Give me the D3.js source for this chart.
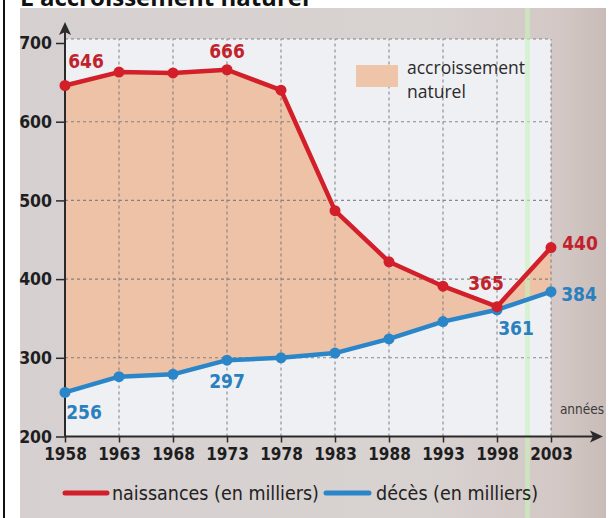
<!DOCTYPE html>
<html>
<head>
<meta charset="utf-8">
<script src="https://cdn.jsdelivr.net/npm/d3@7"></script>
<style>
  html, body { margin: 0; padding: 0; background: #fff; }
  svg { display: block; }
</style>
</head>
<body>
<svg id="chart" width="615" height="518"></svg>
<script>
// Naissances et décès en France (en milliers)
const years = [1958, 1963, 1968, 1973, 1978, 1983, 1988, 1993, 1998, 2003];
const naissances = [646, 663, 662, 666, 640, 487, 422, 391, 365, 440];
const deces = [256, 276, 279, 297, 300, 306, 324, 346, 361, 384];
const yTicks = [200, 300, 400, 500, 600, 700];

// Values that carry a printed label, with text offsets
const birthLabels = [
  { i: 0, dx: 21, dy: -17 },
  { i: 3, dx: 0, dy: -12 },
  { i: 8, dx: -11, dy: -17 },
  { i: 9, dx: 29, dy: 2 }
];
const deathLabels = [
  { i: 0, dx: 19, dy: 27 },
  { i: 3, dx: 0, dy: 28 },
  { i: 8, dx: 19, dy: 25 },
  { i: 9, dx: 28, dy: 9 }
];

const svg = d3.select("#chart");
const W = 615, H = 518;

const x = d3.scaleLinear().domain([1958, 2003]).range([65, 551]);
const y = d3.scaleLinear().domain([200, 700]).range([436.5, 43]);

// Page background (photographed paper)
const defs = svg.append("defs");
const bg = defs.append("linearGradient").attr("id", "paper").attr("x1", 0).attr("x2", 1).attr("y1", 0).attr("y2", 0);
bg.append("stop").attr("offset", "0%").attr("stop-color", "#d6d0d0");
bg.append("stop").attr("offset", "70%").attr("stop-color", "#d8d2d1");
bg.append("stop").attr("offset", "92%").attr("stop-color", "#d3c8c5");
bg.append("stop").attr("offset", "100%").attr("stop-color", "#c9bcb8");

svg.append("rect").attr("x", 0).attr("y", 0).attr("width", W).attr("height", H).attr("fill", "#fff");
svg.append("rect").attr("x", 20).attr("y", 8).attr("width", 586).attr("height", H - 8).attr("fill", "url(#paper)");

// Title (partly cut at the top edge)
svg.append("text")
  .attr("x", 20).attr("y", 6)
  .attr("font-family", "'Open Sans', 'DejaVu Sans', sans-serif")
  .attr("font-weight", "bold").attr("font-size", 24).attr("fill", "#111")
  .text("L'accroissement naturel");

// Left rule
svg.append("rect").attr("x", 3).attr("y", 0).attr("width", 2).attr("height", H).attr("fill", "#111");

// Plot area background
const plotTop = 39;
svg.append("rect")
  .attr("x", x(1958)).attr("y", plotTop)
  .attr("width", x(2003) - x(1958)).attr("height", y(200) - plotTop)
  .attr("fill", "#eff0f4");

// Area between births and deaths
const area = d3.area()
  .x((d, i) => x(years[i]))
  .y0((d, i) => y(deces[i]))
  .y1((d, i) => y(naissances[i]));
svg.append("path").datum(years).attr("d", area).attr("fill", "#edc2a7");

// Dashed grid
const grid = svg.append("g").attr("stroke", "#6f6f74").attr("stroke-width", 1.1)
  .attr("stroke-dasharray", "3,3").attr("opacity", 0.8);
grid.selectAll("line.v").data(years.slice(1)).join("line")
  .attr("x1", d => x(d)).attr("x2", d => x(d))
  .attr("y1", y(200)).attr("y2", plotTop);
grid.selectAll("line.h").data([300, 400, 500, 600]).join("line")
  .attr("x1", x(1958)).attr("x2", x(2003))
  .attr("y1", d => y(d)).attr("y2", d => y(d));
grid.append("line").attr("x1", x(1958)).attr("x2", x(2003)).attr("y1", plotTop).attr("y2", plotTop);

// Faint green streak across the page
svg.append("rect").attr("x", 525).attr("y", 8).attr("width", 5).attr("height", H - 8)
  .attr("fill", "#c6f2bb").attr("opacity", 0.6);

// Axes
const axisColor = "#2a2a2a";
const tickFont = "'DejaVu Sans Condensed', 'Liberation Sans Narrow', sans-serif";
const xAxis = d3.axisBottom(x).tickValues(years).tickFormat(d3.format("d")).tickSize(6).tickPadding(5);
const gx = svg.append("g").attr("transform", `translate(0,${y(200)})`).call(xAxis);
gx.select(".domain").remove();
gx.selectAll(".tick line").attr("stroke", axisColor).attr("stroke-width", 1.5);
gx.selectAll(".tick text")
  .attr("font-family", tickFont)
  .attr("font-size", 17).attr("font-weight", "600").attr("fill", "#1e1e1e");

const yAxis = d3.axisLeft(y).tickValues(yTicks).tickFormat(d3.format("d")).tickSize(9).tickPadding(4);
const gy = svg.append("g").attr("transform", `translate(${x(1958)},0)`).call(yAxis);
gy.select(".domain").remove();
gy.selectAll(".tick line").attr("stroke", axisColor).attr("stroke-width", 1.5);
gy.selectAll(".tick text")
  .attr("font-family", tickFont)
  .attr("font-size", 17.5).attr("font-weight", "600").attr("fill", "#1e1e1e");

// Axis lines with arrows
svg.append("line").attr("x1", x(1958)).attr("x2", 596).attr("y1", y(200)).attr("y2", y(200))
  .attr("stroke", axisColor).attr("stroke-width", 2);
svg.append("path").attr("d", `M603,${y(200)} L590,${y(200) - 6} L593,${y(200)} L590,${y(200) + 6} Z`).attr("fill", axisColor);
svg.append("line").attr("x1", x(1958)).attr("x2", x(1958)).attr("y1", y(200)).attr("y2", 30)
  .attr("stroke", axisColor).attr("stroke-width", 2);
svg.append("path").attr("d", `M${x(1958)},22 L${x(1958) - 6},35 L${x(1958)},32 L${x(1958) + 6},35 Z`).attr("fill", axisColor);

svg.append("text").attr("x", 604).attr("y", 414).attr("text-anchor", "end")
  .attr("font-family", tickFont).attr("font-size", 13.5)
  .attr("fill", "#3a3a3a").text("années");

// Lines and points
const red = "#d21f2a", blue = "#2b86c9";
const line = vals => d3.line().x((d, i) => x(years[i])).y((d, i) => y(vals[i]));
svg.append("path").datum(years).attr("d", line(deces)).attr("fill", "none")
  .attr("stroke", blue).attr("stroke-width", 4.5).attr("stroke-linejoin", "round");
svg.append("path").datum(years).attr("d", line(naissances)).attr("fill", "none")
  .attr("stroke", red).attr("stroke-width", 4.5).attr("stroke-linejoin", "round");
svg.selectAll("circle.d").data(years).join("circle")
  .attr("cx", d => x(d)).attr("cy", (d, i) => y(deces[i])).attr("r", 5.5).attr("fill", blue);
svg.selectAll("circle.n").data(years).join("circle")
  .attr("cx", d => x(d)).attr("cy", (d, i) => y(naissances[i])).attr("r", 5.5).attr("fill", red);

// Value labels
svg.selectAll("text.nl").data(birthLabels).join("text")
  .attr("x", d => x(years[d.i]) + d.dx).attr("y", d => y(naissances[d.i]) + d.dy)
  .attr("text-anchor", "middle").attr("font-family", tickFont).attr("font-weight", "bold")
  .attr("font-size", 19).attr("fill", "#c2222c")
  .text(d => naissances[d.i]);
svg.selectAll("text.dl").data(deathLabels).join("text")
  .attr("x", d => x(years[d.i]) + d.dx).attr("y", d => y(deces[d.i]) + d.dy)
  .attr("text-anchor", "middle").attr("font-family", tickFont).attr("font-weight", "bold")
  .attr("font-size", 19).attr("fill", "#2a7fbf")
  .text(d => deces[d.i]);

// Area legend
svg.append("rect").attr("x", 356).attr("y", 65).attr("width", 42).attr("height", 22).attr("fill", "#efc5a9");
const areaLegend = svg.append("text").attr("font-family", "'Open Sans', 'DejaVu Sans', sans-serif")
  .attr("font-size", 17.5).attr("fill", "#2a2a2a");
areaLegend.append("tspan").attr("x", 407).attr("y", 74).text("accroissement");
areaLegend.append("tspan").attr("x", 407).attr("y", 98).text("naturel");

// Series legend
svg.append("line").attr("x1", 65).attr("x2", 107).attr("y1", 493).attr("y2", 493)
  .attr("stroke", red).attr("stroke-width", 5).attr("stroke-linecap", "round");
svg.append("text").attr("x", 112).attr("y", 500).attr("font-family", tickFont)
  .attr("font-size", 19.5).attr("fill", "#222").text("naissances (en milliers)");
svg.append("line").attr("x1", 326).attr("x2", 369).attr("y1", 493).attr("y2", 493)
  .attr("stroke", blue).attr("stroke-width", 5).attr("stroke-linecap", "round");
svg.append("text").attr("x", 376).attr("y", 500).attr("font-family", tickFont)
  .attr("font-size", 19.5).attr("fill", "#222").text("décès (en milliers)");
</script>
</body>
</html>
